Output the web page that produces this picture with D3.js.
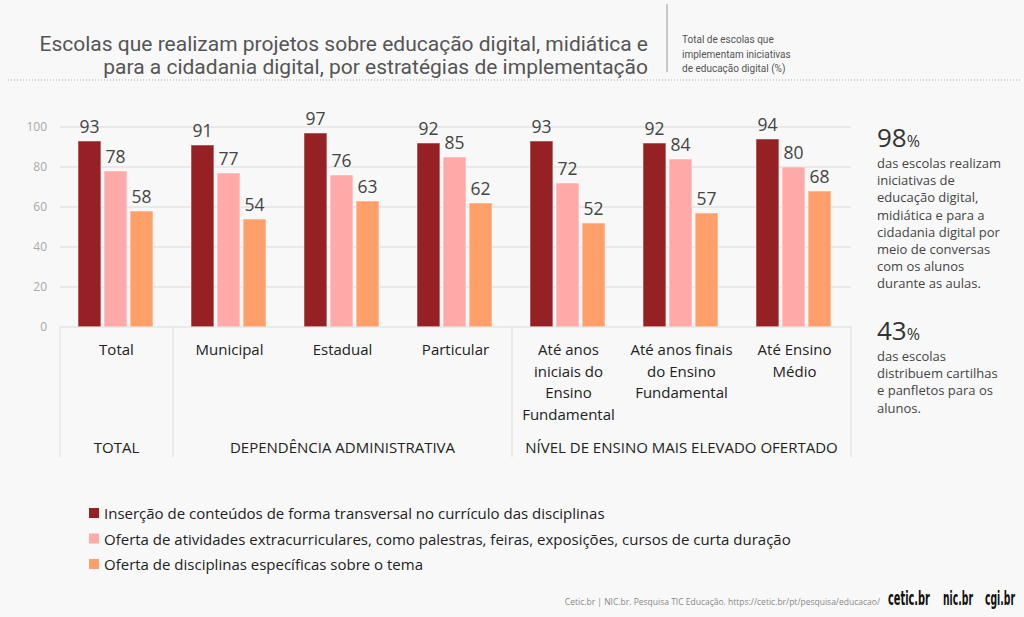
<!DOCTYPE html>
<html>
<head>
<meta charset="utf-8">
<script src="https://cdn.jsdelivr.net/npm/d3@7"></script>
<style>
  body { margin: 0; background: #f8f8f8; }
  svg { display: block; font-family: "Open Sans", "Noto Sans", sans-serif; }
</style>
</head>
<body>
<svg width="1024" height="617"></svg>
<script>
// dados
var categories = ["Total", "Municipal", "Estadual", "Particular",
    "Até anos\niniciais do\nEnsino\nFundamental", "Até anos finais\ndo Ensino\nFundamental", "Até Ensino\nMédio"]
var groups = ["TOTAL", "DEPENDÊNCIA ADMINISTRATIVA", "NÍVEL DE ENSINO MAIS ELEVADO OFERTADO"]
var groupSizes = [1, 3, 3]
var seriesNames = ["Inserção de conteúdos de forma transversal no currículo das disciplinas",
    "Oferta de atividades extracurriculares, como palestras, feiras, exposições, cursos de curta duração",
    "Oferta de disciplinas específicas sobre o tema"]
var insercao = [93, 91, 97, 92, 93, 92, 94]
var atividades = [78, 77, 76, 85, 72, 84, 80]
var disciplinas = [58, 54, 63, 62, 52, 57, 68]
var yTicks = [0, 20, 40, 60, 80, 100]
var colors = ["#962124", "#ffa9a9", "#ffa06a"]

var svg = d3.select("svg")
var series = [insercao, atividades, disciplinas]

var pxL = 60, pxR = 851, pxT = 127, pxB = 327

var scX = d3.scaleBand().domain(categories).range([pxL, pxR])
var scS = d3.scaleBand().domain([0, 1, 2]).range([18, 18 + 75]).paddingInner(0.12)
var scY = d3.scaleLinear().domain([0, 100]).range([pxB, pxT])

// condensa texto
var condense = function (sel, k) {
    sel.each(function () {
        var w = this.getComputedTextLength()
        d3.select(this).attr("textLength", w * k).attr("lengthAdjust", "spacingAndGlyphs")
    })
}

// titulo
var title = svg.append("g").attr("font-family", "Roboto").attr("font-size", 21)
    .attr("fill", "#555").attr("text-anchor", "end")
title.append("text").attr("x", 648).attr("y", 51)
    .text("Escolas que realizam projetos sobre educação digital, midiática e")
title.append("text").attr("x", 648).attr("y", 74)
    .text("para a cidadania digital, por estratégias de implementação")

svg.append("line").attr("x1", 667).attr("x2", 667).attr("y1", 4).attr("y2", 72)
    .attr("stroke", "#999")

var sub = svg.append("g").attr("font-family", "Roboto").attr("font-size", 11.5).attr("fill", "#555")
;["Total de escolas que", "implementam iniciativas", "de educação digital (%)"].forEach(function (t, i) {
    sub.append("text").attr("x", 682).attr("y", 43 + i * 14.5).text(t)
})
sub.selectAll("text").call(condense, 0.87)

svg.append("line").attr("x1", 8).attr("x2", 1020).attr("y1", 80).attr("y2", 80)
    .attr("stroke", "#aaa").attr("stroke-dasharray", "1,2")

// grade
svg.append("g").selectAll("line").data(yTicks.slice(1)).enter()
    .append("line")
    .attr("x1", pxL).attr("x2", pxR)
    .attr("y1", d => scY(d)).attr("y2", d => scY(d))
    .attr("stroke", "#e4e4e4").attr("stroke-width", 1.5)

var axY = svg.append("g").attr("transform", `translate(${pxL - 13}, 0)`)
    .call(d3.axisLeft(scY).tickValues(yTicks).tickSize(0).tickPadding(0))
axY.select(".domain").remove()
axY.selectAll("text").attr("fill", "#aaa").attr("font-size", 12)
    .attr("font-family", "Open Sans")

// barras
var gBars = svg.append("g")
series.forEach(function (vals, s) {
    gBars.append("g").attr("fill", colors[s])
        .selectAll("rect").data(vals).enter()
        .append("rect")
        .attr("x", (d, i) => scX(categories[i]) + scS(s))
        .attr("width", scS.bandwidth())
        .attr("y", d => scY(d))
        .attr("height", d => scY(0) - scY(d))
        .attr("stroke", "#fff").attr("stroke-opacity", 0.5)

    gBars.append("g").attr("fill", "#444").attr("font-size", 17.5).attr("text-anchor", "middle")
        .selectAll("text").data(vals).enter()
        .append("text")
        .attr("x", (d, i) => scX(categories[i]) + scS(s) + scS.bandwidth() / 2)
        .attr("y", d => scY(d) - 8)
        .text(d => d)
})

// eixo de categorias
svg.append("line").attr("x1", pxL).attr("x2", pxR).attr("y1", pxB).attr("y2", pxB)
    .attr("stroke", "#dcdcdc")

var seps = [0]
groupSizes.forEach(function (n) { seps.push(seps[seps.length - 1] + n) })
svg.append("g").selectAll("line").data(seps).enter()
    .append("line")
    .attr("x1", d => pxL + d * scX.step()).attr("x2", d => pxL + d * scX.step())
    .attr("y1", pxB).attr("y2", 457)
    .attr("stroke", "#dcdcdc")

var catLab = svg.append("g").attr("font-size", 15).attr("fill", "#222").attr("text-anchor", "middle")
categories.forEach(function (c) {
    var cx = scX(c) + scX.bandwidth() / 2
    var t = catLab.append("text").attr("x", cx).attr("y", 355)
    c.split("\n").forEach(function (ln, j) {
        t.append("tspan").attr("x", cx).attr("dy", j ? 21.7 : 0).text(ln)
    })
})

svg.append("g").attr("font-size", 15).attr("fill", "#222").attr("text-anchor", "middle")
    .selectAll("text").data(groups).enter()
    .append("text")
    .attr("x", (d, i) => pxL + (seps[i] + seps[i + 1]) / 2 * scX.step())
    .attr("y", 453)
    .text(d => d)

// legenda
var leg = svg.append("g").attr("font-size", 15).attr("fill", "#222")
seriesNames.forEach(function (n, i) {
    leg.append("rect").attr("x", 89).attr("y", 508 + i * 25.5).attr("width", 10).attr("height", 10)
        .attr("fill", colors[i])
    leg.append("text").attr("x", 104).attr("y", 519 + i * 25.5).text(n)
})

// destaques
var side = svg.append("g").attr("fill", "#333")
var highlights = [
    {v: "98", y: 147, lines: ["das escolas realizam", "iniciativas de", "educação digital,", "midiática e para a",
        "cidadania digital por", "meio de conversas", "com os alunos", "durante as aulas."]},
    {v: "43", y: 340, lines: ["das escolas", "distribuem cartilhas", "e panfletos para os", "alunos."]}
]
highlights.forEach(function (h) {
    var t = side.append("text").attr("x", 877).attr("y", h.y).attr("font-size", 26)
    t.append("tspan").text(h.v)
    t.append("tspan").attr("font-size", 16).text("%")
    h.lines.forEach(function (ln, j) {
        side.append("text").attr("x", 877).attr("y", h.y + 21 + j * 17.2)
            .attr("font-size", 13).attr("fill", "#444").text(ln)
    })
})

// rodape
svg.append("text").attr("x", 880).attr("y", 605).attr("text-anchor", "end")
    .attr("font-size", 8.5).attr("fill", "#888")
    .text("Cetic.br | NIC.br. Pesquisa TIC Educação. https://cetic.br/pt/pesquisa/educacao/")

// logos: texto comprimido na horizontal
var logos = svg.append("g").attr("font-family", "DejaVu Sans Condensed").attr("font-weight", "bold")
    .attr("font-size", 19).attr("fill", "#111")
;[["cetic.br", 888, 42], ["nic.br", 943, 30], ["cgi.br", 985, 30]].forEach(function (l) {
    var t = logos.append("text").text(l[0])
    var k = l[2] / t.node().getComputedTextLength()
    t.attr("transform", `translate(${l[1]}, 605) scale(${k}, 1)`)
})
</script>
</body>
</html>
